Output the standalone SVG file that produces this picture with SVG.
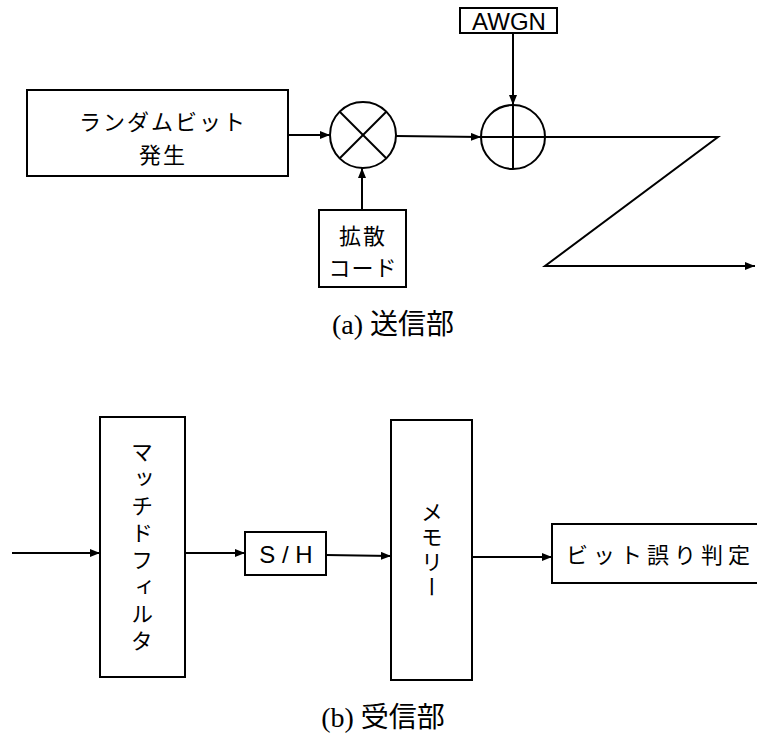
<svg xmlns="http://www.w3.org/2000/svg" width="757" height="737" viewBox="0 0 757 737">
<defs>
<marker id="ah" viewBox="0 0 10 8" refX="10" refY="4" markerWidth="10" markerHeight="8" markerUnits="userSpaceOnUse" orient="auto">
<path d="M0,0 L10,4 L0,8 z" fill="#000"/>
</marker>
<style>
.box{fill:#fff;stroke:#000;stroke-width:2}
.ln{fill:none;stroke:#000;stroke-width:2}
.arr{fill:none;stroke:#000;stroke-width:2;marker-end:url(#ah)}
.jp{font-family:"Noto Sans CJK JP",sans-serif;font-size:22px;fill:#000}
.en{font-family:"Liberation Sans",sans-serif;font-size:24px;fill:#000}
.cap{font-family:"Liberation Serif","Noto Sans CJK JP",serif;font-size:28px;fill:#000}
.vt{writing-mode:vertical-rl;text-orientation:upright}
</style>
</defs>
<rect width="757" height="737" fill="#fff"/>
<g id="connectors">
<line class="arr" x1="288" y1="135" x2="330" y2="135"/>
<line class="arr" x1="396" y1="136" x2="481" y2="137"/>
<line class="arr" x1="513" y1="33" x2="513" y2="105"/>
<line class="arr" x1="362" y1="210" x2="362" y2="168"/>
<polyline class="arr" points="545,137 718,137 545,266 755,266"/>
<line class="arr" x1="12" y1="553" x2="100" y2="553"/>
<line class="arr" x1="185" y1="553" x2="245" y2="553"/>
<line class="arr" x1="326" y1="555" x2="391" y2="556"/>
<line class="arr" x1="472" y1="557" x2="552" y2="557"/>
</g>
<g id="random">
<rect class="box" x="27" y="90" width="261" height="86"/>
<text class="jp" x="163" y="130" text-anchor="middle" letter-spacing="2">ランダムビット</text>
<text class="jp" x="163" y="163" text-anchor="middle" letter-spacing="2">発生</text>
</g>
<g id="mult">
<circle class="ln" cx="363" cy="135" r="33"/>
<line class="ln" x1="340" y1="112" x2="386" y2="158"/>
<line class="ln" x1="386" y1="112" x2="340" y2="158"/>
</g>
<g id="adder">
<circle class="ln" cx="513" cy="137" r="32"/>
<line class="ln" x1="513" y1="105" x2="513" y2="169"/>
<line class="ln" x1="481" y1="137" x2="545" y2="137"/>
</g>
<g id="awgn">
<rect class="box" x="460" y="8" width="97" height="25"/>
<text class="en" x="509" y="30" text-anchor="middle">AWGN</text>
</g>
<g id="spread">
<rect class="box" x="319" y="210" width="87" height="77"/>
<text class="jp" x="363" y="244" text-anchor="middle" font-size="21" letter-spacing="2">拡散</text>
<text class="jp" x="363" y="276" text-anchor="middle" font-size="21" letter-spacing="1">コード</text>
</g>
<text class="cap" x="393" y="334" text-anchor="middle">(a) 送信部</text>
<g id="matched">
<rect class="box" x="100" y="417" width="85" height="260"/>
<text class="jp vt" x="142" y="441" letter-spacing="5" font-size="22">マッチドフィルタ</text>
</g>
<g id="sh">
<rect class="box" x="245" y="532" width="81" height="43"/>
<text class="en" x="286" y="563" text-anchor="middle">S / H</text>
</g>
<g id="memory">
<rect class="box" x="391" y="420" width="81" height="260"/>
<text class="jp vt" x="432" y="501" letter-spacing="3">メモリー</text>
</g>
<g id="biterr">
<rect class="box" x="552" y="524" width="210" height="59"/>
<text class="jp" x="566" y="563" letter-spacing="5" font-size="23">ビット誤り判定</text>
</g>
<text class="cap" x="383" y="727" text-anchor="middle">(b) 受信部</text>
</svg>
